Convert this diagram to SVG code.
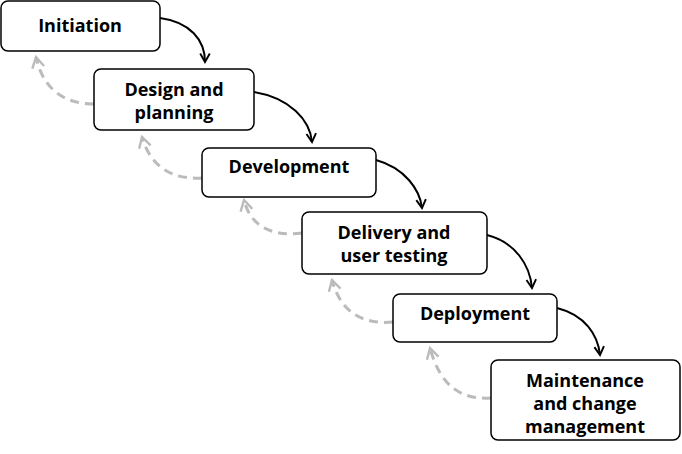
<svg xmlns="http://www.w3.org/2000/svg" width="682" height="454" viewBox="0 0 682 454">
<defs>
<marker id="ab" viewBox="0 0 10 10" refX="8" refY="5" markerWidth="6" markerHeight="6" orient="auto"><path d="M1,1 L8,5 L1,9" fill="none" stroke="#000" stroke-width="1.6"/></marker>
<marker id="ag" viewBox="0 0 10 10" refX="8" refY="5" markerWidth="5" markerHeight="5" orient="auto"><path d="M1,1 L8,5 L1,9" fill="none" stroke="#bbb" stroke-width="1.6"/></marker>
</defs>
<style>
.n{fill:#fff;stroke:#000;stroke-width:1.5}
text{font-family:"Open Sans","Liberation Sans",sans-serif;font-weight:bold;font-size:18px;text-anchor:middle;fill:#000}
.b{fill:none;stroke:#000;stroke-width:2;marker-end:url(#ab)}
.g{fill:none;stroke:#bbb;stroke-width:3;stroke-dasharray:9,6;marker-end:url(#ag)}
</style>
<rect width="682" height="454" fill="#fff"/>
<g id="connectors">
<path class="b" d="M160,18 C190,22 205,40 205,62"/>
<path class="b" d="M254,92 C290,98 310,120 312,142"/>
<path class="b" d="M376,160 C405,168 420,190 422,208"/>
<path class="b" d="M487,235 C515,242 530,265 532,288"/>
<path class="b" d="M557,308 C585,315 598,335 600,355"/>
<path class="g" d="M94,104 C60,104 42,85 36,57"/>
<path class="g" d="M202,178 C170,180 150,165 142,137"/>
<path class="g" d="M302,233 C270,237 250,225 244,200"/>
<path class="g" d="M393,322 C360,325 340,310 332,280"/>
<path class="g" d="M491,398 C460,400 440,385 430,348"/>
</g>
<g id="n1"><rect class="n" x="1" y="1" width="159" height="50" rx="7"/><text x="80" y="32">Initiation</text></g>
<g id="n2"><rect class="n" x="94" y="69" width="160" height="61" rx="7"/><text x="174" y="96">Design and</text><text x="174" y="119">planning</text></g>
<g id="n3"><rect class="n" x="202" y="148" width="174" height="49" rx="7"/><text x="289" y="173">Development</text></g>
<g id="n4"><rect class="n" x="302" y="212" width="185" height="62" rx="7"/><text x="394" y="239">Delivery and</text><text x="394" y="262">user testing</text></g>
<g id="n5"><rect class="n" x="393" y="294" width="164" height="48" rx="7"/><text x="475" y="320">Deployment</text></g>
<g id="n6"><rect class="n" x="491" y="360" width="189" height="80" rx="7"/><text x="585" y="387">Maintenance</text><text x="585" y="410">and change</text><text x="585" y="433">management</text></g>
</svg>
